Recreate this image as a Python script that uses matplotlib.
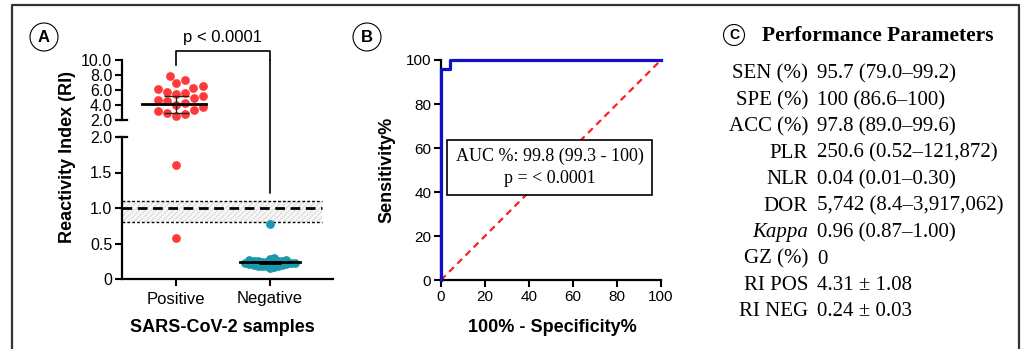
import numpy as np
import matplotlib
matplotlib.use('Agg')
import matplotlib.pyplot as plt
from matplotlib.patches import Ellipse, Rectangle, ConnectionPatch
from matplotlib.lines import Line2D

plt.rcParams['font.family'] = ['Liberation Sans', 'DejaVu Sans']
plt.rcParams['hatch.linewidth'] = 0.8

# ---- data ----
groups = ['Positive', 'Negative']
pos_ri = [7.9, 7.4, 6.9, 6.6, 6.3, 6.1, 5.8, 5.6, 5.5, 5.2, 4.9, 4.7, 4.5,
          4.3, 4.0, 3.7, 3.4, 3.2, 3.0, 2.8, 2.5, 1.6, 0.58]
neg_ri = [0.77, 0.29, 0.28, 0.27, 0.27, 0.26, 0.26, 0.25, 0.25, 0.24, 0.24,
          0.23, 0.23, 0.23, 0.22, 0.22, 0.21, 0.21, 0.20, 0.20, 0.19, 0.19,
          0.18, 0.18, 0.17, 0.16]
pos_mean, pos_sd = 4.1, 1.1
neg_mean, neg_sd = 0.235, 0.01
cutoff, gz_low, gz_high = 1.0, 0.8, 1.1

roc_fpr = [0, 0, 4, 4, 100]
roc_tpr = [0, 95.7, 95.7, 100, 100]
auc_text = 'AUC %: 99.8 (99.3 - 100)\np = < 0.0001'

perf_names = ['SEN (%)', 'SPE (%)', 'ACC (%)', 'PLR', 'NLR', 'DOR', 'Kappa',
              'GZ (%)', 'RI POS', 'RI NEG']
perf_values = ['95.7 (79.0\u201399.2)', '100 (86.6\u2013100)', '97.8 (89.0\u201399.6)',
               '250.6 (0.52\u2013121,872)', '0.04 (0.01\u20130.30)',
               '5,742 (8.4\u20133,917,062)', '0.96 (0.87\u20131.00)', '0',
               '4.31 \u00b1 1.08', '0.24 \u00b1 0.03']

RED = '#ff3a3a'
TEAL = '#1a98ae'
BLUE = '#1010c8'

W, H = 1027, 349
fig = plt.figure(figsize=(W / 100, H / 100), dpi=100)


def fbox(x0, y0, x1, y1):
    # pixel box -> figure fraction rect
    return [x0 / W, 1 - y1 / H, (x1 - x0) / W, (y1 - y0) / H]


def swarm(ax, xc, vals, d=8.2):
    # simple beeswarm in pixel space
    pts = ax.transData.transform([(xc, v) for v in vals])
    ypx = pts[:, 1]
    x0px = pts[0, 0]
    order = np.argsort(ypx)
    placed = []
    xs = np.zeros(len(vals))
    for i in order:
        y = ypx[i]
        cands = [0.0]
        for (px, py) in placed:
            dy = abs(py - y)
            if dy < d:
                dx = np.sqrt(d * d - dy * dy)
                cands += [px + dx, px - dx]
        cands = sorted(cands, key=abs)
        for c in cands:
            if all((c - px) ** 2 + (y - py) ** 2 >= d * d - 1e-6 for px, py in placed):
                placed.append((c, y))
                xs[i] = c
                break
    inv = ax.transData.inverted()
    return [inv.transform((x0px + x, y))[0] for x, y in zip(xs, ypx)]


# ---- panel A: broken axis ----
ax_up = fig.add_axes(fbox(122, 60, 333, 120))
ax_lo = fig.add_axes(fbox(122, 137, 333, 279))
xlim = (-0.574, 1.67)
for ax in (ax_up, ax_lo):
    ax.set_xlim(*xlim)
    for s in ('top', 'right'):
        ax.spines[s].set_visible(False)
    ax.spines['left'].set_linewidth(1.6)
    ax.tick_params(width=1.5, length=5, labelsize=11.5, pad=2)
ax_up.set_ylim(2, 10)
ax_up.set_yticks([2, 4, 6, 8, 10])
ax_up.set_yticklabels(['2.0', '4.0', '6.0', '8.0', '10.0'])
ax_up.spines['bottom'].set_visible(False)
ax_up.set_xticks([])
ax_lo.set_ylim(0, 2)
ax_lo.set_yticks([0, 0.5, 1.0, 1.5, 2.0])
ax_lo.set_yticklabels(['0', '0.5', '1.0', '1.5', '2.0'])
ax_lo.spines['bottom'].set_linewidth(1.6)
ax_lo.set_xticks([0, 1])
ax_lo.set_xticklabels(groups, fontsize=12)
ax_lo.tick_params(axis='x', pad=4)

# break caps
for ax, yv in ((ax_up, 0), (ax_lo, 1)):
    ax.plot([-0.022, 0.022], [yv, yv], transform=ax.transAxes, color='black',
            lw=1.6, clip_on=False)

for gi, vals, col, dd in ((0, pos_ri, RED, 9.5), (1, neg_ri, TEAL, 4.2)):
    vals = np.array(vals)
    hi = vals[vals >= 2]
    lo = vals[vals < 2]
    if len(hi):
        ax_up.scatter(swarm(ax_up, gi, hi, dd), hi, s=40, color=col, lw=0, zorder=3, clip_on=False)
    if len(lo):
        ax_lo.scatter(swarm(ax_lo, gi, lo, dd), lo, s=40, color=col, lw=0, zorder=3, clip_on=False)

# mean and sd
ax_up.plot([-0.36, 0.32], [pos_mean, pos_mean], color='black', lw=2, zorder=4)
ax_up.errorbar([0], [pos_mean], yerr=[pos_sd], color='#222222', lw=1,
               capsize=9, capthick=1, zorder=4)
ax_lo.plot([0.68, 1.32], [neg_mean, neg_mean], color='black', lw=2, zorder=4)
ax_lo.errorbar([1], [neg_mean], yerr=[neg_sd], color='black', lw=2,
               capsize=8, capthick=2, zorder=4)

# grey zone
ax_lo.fill_between([xlim[0], 1.55], gz_low, gz_high, facecolor='#f7f7f7',
                   edgecolor='#dcdcdc', hatch='//////', lw=0, zorder=1)
ax_lo.plot([xlim[0], 1.55], [gz_high, gz_high], color='black', lw=1, ls=(0, (2, 1.5)))
ax_lo.plot([xlim[0], 1.55], [gz_low, gz_low], color='black', lw=1, ls=(0, (2, 1.5)))
ax_lo.plot([xlim[0], 1.55], [cutoff, cutoff], color='black', lw=2, ls=(0, (3.5, 2)))

# significance bracket
ax_up.plot([0, 0, 1, 1], [9.3, 11.2, 11.2, 10.0], color='black', lw=1.2, clip_on=False)
con = ConnectionPatch(xyA=(1, 10.0), coordsA=ax_up.transData,
                      xyB=(1, 1.21), coordsB=ax_lo.transData,
                      color='black', lw=1.2)
fig.add_artist(con)
ax_up.text(0.5, 12.0, 'p < 0.0001', ha='center', va='bottom', fontsize=12, clip_on=False)

fig.text(68 / W, 1 - 157 / H, 'Reactivity Index (RI)', rotation=90, ha='center',
         va='center', fontsize=13, fontweight='bold')
fig.text(222 / W, 1 - 327 / H, 'SARS-CoV-2 samples', ha='center', va='center',
         fontsize=13, fontweight='bold')

# ---- panel B: ROC ----
axb = fig.add_axes(fbox(441, 60, 661, 280))
axb.set_xlim(0, 100)
axb.set_ylim(0, 100)
for s in ('top', 'right'):
    axb.spines[s].set_visible(False)
for s in ('left', 'bottom'):
    axb.spines[s].set_linewidth(1.6)
axb.set_xticks(range(0, 101, 20))
axb.set_yticks(range(0, 101, 20))
axb.tick_params(width=1.5, length=5, labelsize=11, pad=2)
axb.plot([0, 100], [0, 100], color='#ff2020', lw=1.6, ls=(0, (3, 2.2)), zorder=2, clip_on=False)
axb.plot(roc_fpr, roc_tpr, color=BLUE, lw=2.3, zorder=4, clip_on=False)
axb.add_patch(Rectangle((2.7, 38.6), 93.3, 25.0, facecolor='white', edgecolor='black',
                        lw=1.2, zorder=5))
axb.text(49.3, 51.2, auc_text, ha='center', va='center', fontsize=13,
         family='Liberation Serif', linespacing=1.35, zorder=6)
fig.text(387 / W, 1 - 170 / H, 'Sensitivity%', rotation=90, ha='center', va='center',
         fontsize=13, fontweight='bold')
fig.text(552 / W, 1 - 327 / H, '100% - Specificity%', ha='center', va='center',
         fontsize=13, fontweight='bold')

# ---- panel C: table ----
fig.text(878 / W, 1 - 36 / H, 'Performance Parameters', ha='center', va='center',
         fontsize=15.5, fontweight='bold', family='Liberation Serif')
row_y = np.linspace(74, 312, len(perf_names))
for name, val, yy in zip(perf_names, perf_values, row_y):
    fig.text(808 / W, 1 - yy / H, name, ha='right', va='center', fontsize=15,
             family='Liberation Serif', style='italic' if name == 'Kappa' else 'normal')
    fig.text(817 / W, 1 - yy / H, val, ha='left', va='center', fontsize=15,
             family='Liberation Serif')

# ---- panel letters ----
for cx, cy, r, letter, fs in ((44, 37, 14, 'A', 12), (367, 37, 14, 'B', 12), (734, 35, 10.5, 'C', 10)):
    fig.add_artist(Ellipse((cx / W, 1 - cy / H), 2 * r / W, 2 * r / H, facecolor='white',
                           edgecolor='black', lw=0.8, transform=fig.transFigure))
    fig.text(cx / W, 1 - cy / H, letter, ha='center', va='center', fontsize=fs,
             fontweight='bold')

# ---- outer frame ----
fig.add_artist(Line2D([12 / W, 12 / W, 1019 / W, 1019 / W], [0, 1 - 5 / H, 1 - 5 / H, 0],
                      color='#333333', lw=1.6, transform=fig.transFigure))

fig.savefig('out.png', dpi=100)
